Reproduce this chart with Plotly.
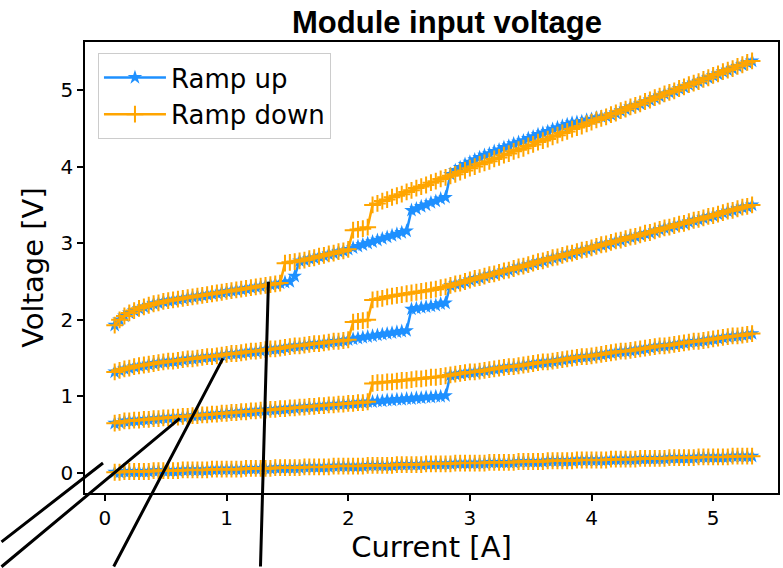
import plotly.graph_objects as go

# Current setpoints of the sweep [A]
current_a = [
    0.08, 0.12, 0.16, 0.20, 0.24, 0.28, 0.32, 0.36, 0.40, 0.44,
    0.48, 0.52, 0.56, 0.60, 0.64, 0.68, 0.72, 0.76, 0.80, 0.84,
    0.88, 0.92, 0.96, 1.00, 1.04, 1.08, 1.12, 1.16, 1.20, 1.24,
    1.28, 1.32, 1.36, 1.40, 1.44, 1.48, 1.52, 1.56, 1.60, 1.64,
    1.68, 1.72, 1.76, 1.80, 1.84, 1.88, 1.92, 1.96, 2.00, 2.04,
    2.08, 2.12, 2.16, 2.20, 2.24, 2.28, 2.32, 2.36, 2.40, 2.44,
    2.48, 2.52, 2.56, 2.60, 2.64, 2.68, 2.72, 2.76, 2.80, 2.84,
    2.88, 2.92, 2.96, 3.00, 3.04, 3.08, 3.12, 3.16, 3.20, 3.24,
    3.28, 3.32, 3.36, 3.40, 3.44, 3.48, 3.52, 3.56, 3.60, 3.64,
    3.68, 3.72, 3.76, 3.80, 3.84, 3.88, 3.92, 3.96, 4.00, 4.04,
    4.08, 4.12, 4.16, 4.20, 4.24, 4.28, 4.32, 4.36, 4.40, 4.44,
    4.48, 4.52, 4.56, 4.60, 4.64, 4.68, 4.72, 4.76, 4.80, 4.84,
    4.88, 4.92, 4.96, 5.00, 5.04, 5.08, 5.12, 5.16, 5.20, 5.24,
    5.28, 5.32,
]

# Module 0: same voltage on both ramps [V]
v0 = [
    0.01, 0.01, 0.02, 0.02, 0.02, 0.02, 0.02, 0.02, 0.03, 0.03,
    0.03, 0.03, 0.03, 0.03, 0.04, 0.04, 0.04, 0.04, 0.04, 0.04,
    0.05, 0.05, 0.05, 0.05, 0.05, 0.05, 0.05, 0.06, 0.06, 0.06,
    0.06, 0.06, 0.06, 0.07, 0.07, 0.07, 0.07, 0.07, 0.07, 0.08,
    0.08, 0.08, 0.08, 0.08, 0.08, 0.09, 0.09, 0.09, 0.09, 0.09,
    0.09, 0.09, 0.10, 0.10, 0.10, 0.10, 0.10, 0.10, 0.11, 0.11,
    0.11, 0.11, 0.11, 0.11, 0.12, 0.12, 0.12, 0.12, 0.12, 0.12,
    0.13, 0.13, 0.13, 0.13, 0.13, 0.13, 0.13, 0.14, 0.14, 0.14,
    0.14, 0.14, 0.14, 0.15, 0.15, 0.15, 0.15, 0.15, 0.15, 0.16,
    0.16, 0.16, 0.16, 0.16, 0.16, 0.17, 0.17, 0.17, 0.17, 0.17,
    0.17, 0.17, 0.18, 0.18, 0.18, 0.18, 0.18, 0.18, 0.19, 0.19,
    0.19, 0.19, 0.19, 0.19, 0.20, 0.20, 0.20, 0.20, 0.20, 0.20,
    0.21, 0.21, 0.21, 0.21, 0.21, 0.21, 0.21, 0.22, 0.22, 0.22,
    0.22, 0.22,
]

# Module 1 [V]: shared low branch (0.08-2.16 A), hysteresis window, shared high branch
v1_low = [
    0.65, 0.66, 0.68, 0.68, 0.69, 0.69, 0.70, 0.70, 0.71, 0.71,
    0.72, 0.72, 0.73, 0.73, 0.74, 0.74, 0.75, 0.75, 0.76, 0.76,
    0.77, 0.77, 0.78, 0.78, 0.79, 0.79, 0.80, 0.80, 0.81, 0.81,
    0.82, 0.82, 0.83, 0.83, 0.84, 0.84, 0.85, 0.85, 0.86, 0.86,
    0.87, 0.87, 0.88, 0.88, 0.89, 0.89, 0.90, 0.90, 0.91, 0.91,
    0.92, 0.92, 0.93,
]
v1_up_window = [0.93, 0.94, 0.94, 0.95, 0.95, 0.96, 0.96, 0.97,
                0.97, 0.98, 0.98, 0.99, 0.99, 1.00, 1.00, 1.01]
v1_down_window = [1.17, 1.18, 1.18, 1.19, 1.19, 1.20, 1.21, 1.21,
                  1.22, 1.23, 1.23, 1.24, 1.25, 1.25, 1.26, 1.27]
v1_high = [
    1.28, 1.29, 1.30, 1.31, 1.32, 1.32, 1.33, 1.34, 1.35, 1.36,
    1.37, 1.38, 1.39, 1.39, 1.40, 1.41, 1.42, 1.43, 1.44, 1.45,
    1.45, 1.46, 1.47, 1.48, 1.49, 1.50, 1.51, 1.52, 1.52, 1.53,
    1.54, 1.55, 1.56, 1.57, 1.58, 1.59, 1.59, 1.60, 1.61, 1.62,
    1.63, 1.64, 1.65, 1.66, 1.66, 1.67, 1.68, 1.69, 1.70, 1.71,
    1.72, 1.72, 1.73, 1.74, 1.75, 1.76, 1.77, 1.78, 1.79, 1.79,
    1.80, 1.81, 1.82,
]

# Module 2 [V]: shared low branch (0.08-2.00 A), hysteresis window, shared high branch
v2_low = [
    1.32, 1.34, 1.36, 1.37, 1.39, 1.40, 1.41, 1.42, 1.43, 1.44,
    1.45, 1.46, 1.46, 1.47, 1.48, 1.49, 1.49, 1.50, 1.51, 1.52,
    1.52, 1.53, 1.54, 1.55, 1.56, 1.56, 1.57, 1.58, 1.59, 1.59,
    1.60, 1.61, 1.62, 1.62, 1.63, 1.64, 1.65, 1.66, 1.66, 1.67,
    1.68, 1.69, 1.69, 1.70, 1.71, 1.72, 1.72, 1.73, 1.74,
]
v2_up_window = [1.75, 1.76, 1.77, 1.78, 1.79, 1.80, 1.81, 1.82, 1.83, 1.84,
                1.85, 1.86, 2.14, 2.15, 2.16, 2.17, 2.18, 2.19, 2.21, 2.22]
v2_down_window = [1.97, 1.98, 1.99, 2.00, 2.26, 2.27, 2.28, 2.30, 2.31, 2.32,
                  2.33, 2.34, 2.35, 2.36, 2.37, 2.38, 2.39, 2.40, 2.42, 2.43]
v2_high = [
    2.45, 2.47, 2.48, 2.50, 2.52, 2.54, 2.55, 2.57, 2.59, 2.60,
    2.62, 2.64, 2.65, 2.67, 2.69, 2.70, 2.72, 2.74, 2.76, 2.77,
    2.79, 2.81, 2.82, 2.84, 2.86, 2.87, 2.89, 2.91, 2.92, 2.94,
    2.96, 2.98, 2.99, 3.01, 3.03, 3.04, 3.06, 3.08, 3.09, 3.11,
    3.13, 3.14, 3.16, 3.18, 3.20, 3.21, 3.23, 3.25, 3.26, 3.28,
    3.30, 3.31, 3.33, 3.35, 3.36, 3.38, 3.40, 3.42, 3.43, 3.45,
    3.47, 3.48, 3.50,
]

# Module 3 [V]: two hysteresis windows (1.48-1.56 A and 2.04-2.80 A)
v3_low = [
    1.93, 2.00, 2.05, 2.09, 2.12, 2.15, 2.17, 2.19, 2.21, 2.22,
    2.24, 2.25, 2.26, 2.27, 2.28, 2.29, 2.30, 2.31, 2.32, 2.33,
    2.34, 2.35, 2.36, 2.37, 2.38, 2.39, 2.40, 2.41, 2.42, 2.43,
    2.44, 2.45, 2.46, 2.47, 2.48,
]
v3_up_first = [2.49, 2.50, 2.57]
v3_down_first = [2.74, 2.75, 2.76]
v3_mid = [2.77, 2.78, 2.80, 2.81, 2.83, 2.84, 2.86, 2.87, 2.89, 2.90, 2.92]
v3_up_window = [2.94, 2.96, 2.98, 3.00, 3.02, 3.04, 3.06, 3.08, 3.10, 3.12,
                3.14, 3.16, 3.43, 3.45, 3.48, 3.50, 3.53, 3.55, 3.58, 3.60]
v3_down_window = [3.17, 3.18, 3.19, 3.21, 3.50, 3.52, 3.55, 3.57, 3.60, 3.62,
                  3.64, 3.67, 3.69, 3.72, 3.74, 3.76, 3.79, 3.81, 3.84, 3.86]
v3_up_high = [
    3.90, 3.95, 3.99, 4.03, 4.06, 4.09, 4.12, 4.15, 4.17, 4.20,
    4.22, 4.25, 4.27, 4.30, 4.32, 4.34, 4.37, 4.39, 4.42, 4.44,
    4.46, 4.49, 4.51, 4.53, 4.55, 4.57, 4.58, 4.59, 4.61, 4.62,
    4.64, 4.65, 4.66, 4.68, 4.70, 4.73, 4.75, 4.78, 4.80, 4.82,
    4.85, 4.87, 4.90, 4.92, 4.95, 4.97, 4.99, 5.02, 5.04, 5.07,
    5.09, 5.11, 5.14, 5.16, 5.19, 5.21, 5.24, 5.26, 5.28, 5.31,
    5.33, 5.36, 5.38,
]
v3_down_high = [
    3.88, 3.90, 3.93, 3.95, 3.98, 4.00, 4.03, 4.05, 4.07, 4.10,
    4.12, 4.15, 4.17, 4.20, 4.22, 4.24, 4.27, 4.29, 4.32, 4.34,
    4.36, 4.39, 4.41, 4.44, 4.46, 4.49, 4.51, 4.53, 4.56, 4.58,
    4.61, 4.63, 4.65, 4.68, 4.70, 4.73, 4.75, 4.78, 4.80, 4.82,
    4.85, 4.87, 4.90, 4.92, 4.95, 4.97, 4.99, 5.02, 5.04, 5.07,
    5.09, 5.11, 5.14, 5.16, 5.19, 5.21, 5.24, 5.26, 5.28, 5.31,
    5.33, 5.36, 5.38,
]

ramp_up = [
    v0,
    v1_low + v1_up_window + v1_high,
    v2_low + v2_up_window + v2_high,
    v3_low + v3_up_first + v3_mid + v3_up_window + v3_up_high,
]
ramp_down = [
    v0,
    v1_low + v1_down_window + v1_high,
    v2_low + v2_down_window + v2_high,
    v3_low + v3_down_first + v3_mid + v3_down_window + v3_down_high,
]

x_ticks = [0, 1, 2, 3, 4, 5]
y_ticks = [0, 1, 2, 3, 4, 5]

# Leader lines: target point (A, V) and pixel offset of the free end
leaders = [
    ((-0.016, 0.13), (-140, 80)),
    ((0.615, 0.714), (-200, 172)),
    ((0.97, 1.497), (-110, 230)),
    ((1.344, 2.497), (-8, 300)),
]

BLUE = "#1E90FF"
ORANGE = "#FFA500"
TEXT_FONT = "DejaVu Sans"

fig = go.Figure()
for k in range(len(ramp_up)):
    fig.add_trace(go.Scatter(
        x=current_a, y=ramp_up[k], mode="lines+markers", name="Ramp up",
        legendgroup="up", showlegend=(k == 0),
        line=dict(color=BLUE, width=2.5),
        marker=dict(symbol="star", size=11, color=BLUE, line=dict(width=0)),
    ))
    fig.add_trace(go.Scatter(
        x=current_a, y=ramp_down[k], mode="lines+markers", name="Ramp down",
        legendgroup="down", showlegend=(k == 0),
        line=dict(color=ORANGE, width=2.5),
        marker=dict(symbol="cross-thin", size=12, color=ORANGE,
                    line=dict(color=ORANGE, width=2)),
    ))

for (tx, ty), (ax, ay) in leaders:
    fig.add_annotation(x=tx, y=ty, ax=ax, ay=ay, text="", showarrow=True,
                       arrowhead=0, arrowwidth=3, arrowcolor="black")

axis_common = dict(
    ticks="outside", ticklen=6, tickwidth=1.5, tickcolor="black",
    showline=True, linecolor="black", linewidth=1.5, mirror=True,
    showgrid=False, zeroline=False,
    tickfont=dict(family=TEXT_FONT, size=20, color="black"),
)

fig.update_layout(
    width=783, height=568,
    margin=dict(l=85, r=3, t=42, b=75),
    plot_bgcolor="white", paper_bgcolor="white",
    title=dict(text="<b>Module input voltage</b>",
               font=dict(family="Liberation Sans, Arial", size=31, color="black"),
               x=447 / 783, xanchor="center", xref="container",
               y=1 - 22 / 568, yanchor="middle", yref="container"),
    xaxis=dict(range=[-0.164, 5.533], tickvals=x_ticks,
               title=dict(text="Current [A]", standoff=6,
                          font=dict(family=TEXT_FONT, size=29, color="black")),
               **axis_common),
    yaxis=dict(range=[-0.261, 5.627], tickvals=y_ticks,
               title=dict(text="Voltage [V]", standoff=8,
                          font=dict(family=TEXT_FONT, size=29, color="black")),
               **axis_common),
    legend=dict(x=0.0187, y=0.9756, xanchor="left", yanchor="top",
                bordercolor="#cccccc", borderwidth=1,
                bgcolor="rgba(255,255,255,0.8)", tracegroupgap=0,
                itemwidth=62,
                font=dict(family=TEXT_FONT, size=26, color="black")),
)

fig.write_html("out.html")
